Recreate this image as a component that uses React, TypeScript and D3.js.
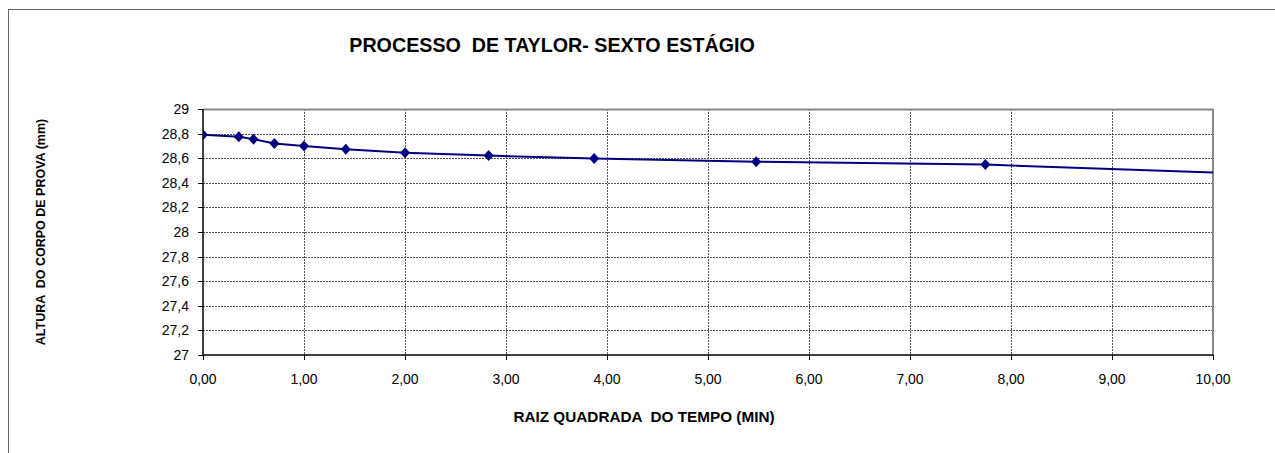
import React from "react";
import * as d3 from "d3";

const xValues = [0, 0.354, 0.5, 0.707, 1.0, 1.414, 2.0, 2.828, 3.873, 5.477, 7.746, 10.954];
const yValues = [28.79, 28.775, 28.755, 28.72, 28.70, 28.672, 28.645, 28.621, 28.597, 28.572, 28.548, 28.457];
const xTicks = [0, 1, 2, 3, 4, 5, 6, 7, 8, 9, 10];
const yTicks = [27, 27.2, 27.4, 27.6, 27.8, 28, 28.2, 28.4, 28.6, 28.8, 29];
const title = "PROCESSO  DE TAYLOR- SEXTO ESTÁGIO";
const xTitle = "RAIZ QUADRADA  DO TEMPO (MIN)";
const yTitle = "ALTURA  DO CORPO DE PROVA (mm)";

const W = 1275, H = 453;
const L = 203, R = 1213, T = 109, B = 355;
const FONT = "'Liberation Sans', Arial, sans-serif";
const pre = { whiteSpace: "pre" as const };

export default function App() {
  const x = d3.scaleLinear().domain([0, 10]).range([L, R]);
  const y = d3.scaleLinear().domain([27, 29]).range([B, T]);
  const pts = xValues.map((v, i) => [v, yValues[i]] as [number, number]);
  const line = d3.line<[number, number]>().x(d => x(d[0])).y(d => y(d[1]));
  const fmtY = (v: number) => (Math.round(v * 10) / 10).toString().replace(".", ",");
  const fmtX = (v: number) => v.toFixed(2).replace(".", ",");
  return (
    <svg width={W} height={H} style={{ position: "absolute", left: 0, top: 0, background: "#fff" }} fontFamily={FONT}>
      <defs>
        <clipPath id="plotclip">
          <rect x={L} y={T - 6} width={R - L} height={B - T + 12} />
        </clipPath>
      </defs>
      {/* outer frame */}
      <line x1={8.5} y1={9} x2={8.5} y2={H} stroke="#666" strokeWidth={1} />
      <line x1={8} y1={9.5} x2={W} y2={9.5} stroke="#666" strokeWidth={1} />
      {/* grid */}
      {yTicks.filter(t => t !== 27 && t !== 29).map(t => (
        <line key={"gy" + t} x1={L} x2={R} y1={Math.round(y(t)) + 0.5} y2={Math.round(y(t)) + 0.5}
          stroke="#555" strokeWidth={1} strokeDasharray="2,1" />
      ))}
      {xTicks.filter(t => t !== 0 && t !== 10).map(t => (
        <line key={"gx" + t} x1={Math.round(x(t)) + 0.5} x2={Math.round(x(t)) + 0.5} y1={T} y2={B}
          stroke="#555" strokeWidth={1} strokeDasharray="2,1" />
      ))}
      {/* plot border top/right */}
      <line x1={L} x2={R} y1={T + 0.5} y2={T + 0.5} stroke="#888" strokeWidth={2} />
      <line x1={R} x2={R} y1={T} y2={B} stroke="#888" strokeWidth={2} />
      {/* axes */}
      <line x1={L} x2={L} y1={T} y2={B + 1} stroke="#000" strokeWidth={1.5} />
      <line x1={L} x2={R} y1={B} y2={B} stroke="#000" strokeWidth={1.5} />
      {yTicks.map(t => (
        <g key={"ty" + t}>
          <line x1={L - 5} x2={L} y1={Math.round(y(t)) + 0.5} y2={Math.round(y(t)) + 0.5} stroke="#000" />
          <text x={189} y={y(t)} dy="0.35em" textAnchor="end" fontSize={14} fill="#000">{fmtY(t)}</text>
        </g>
      ))}
      {xTicks.map(t => (
        <g key={"tx" + t}>
          <line x1={Math.round(x(t)) + 0.5} x2={Math.round(x(t)) + 0.5} y1={B} y2={B + 5} stroke="#000" />
          <text x={x(t)} y={384} textAnchor="middle" fontSize={14} fill="#000">{fmtX(t)}</text>
        </g>
      ))}
      {/* series */}
      <g clipPath="url(#plotclip)">
        <path d={line(pts) || ""} fill="none" stroke="#000080" strokeWidth={2} />
        {pts.filter(p => p[0] <= 10).map((p, i) => {
          const cx = x(p[0]), cy = y(p[1]);
          return <path key={"m" + i} d={`M${cx},${cy - 5.5}L${cx + 5},${cy}L${cx},${cy + 5.5}L${cx - 5},${cy}Z`} fill="#000080" />;
        })}
      </g>
      {/* titles */}
      <text x={552} y={52} textAnchor="middle" fontSize={19.7} fontWeight="bold" fill="#000" style={pre}>{title}</text>
      <text x={644} y={422} textAnchor="middle" fontSize={15.3} fontWeight="bold" fill="#000" style={pre}>{xTitle}</text>
      <text transform={`translate(45,${232}) rotate(-90)`} textAnchor="middle" fontSize={12.5} fontWeight="bold" fill="#000" style={pre}>{yTitle}</text>
    </svg>
  );
}
